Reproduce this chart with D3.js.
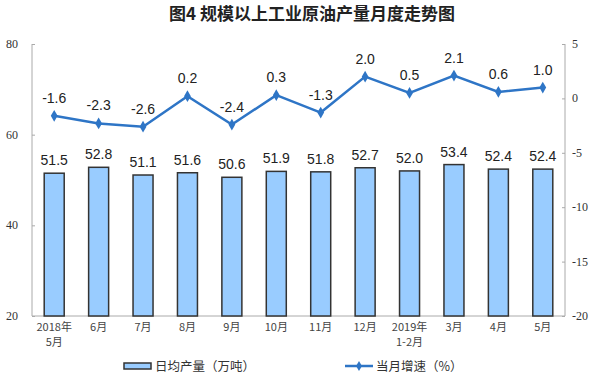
<!DOCTYPE html>
<html>
<head>
<meta charset="utf-8">
<script src="https://cdn.jsdelivr.net/npm/d3@7"></script>
<style>
  body { margin: 0; background: #fff; }
  svg { display: block; }
</style>
</head>
<body>
<svg id="canvas" width="600" height="376"></svg>
<script>
// months on the x axis (two-line labels split by \n)
var months = ["2018年\n5月", "6月", "7月", "8月", "9月", "10月", "11月", "12月", "2019年\n1-2月", "3月", "4月", "5月"];
// daily output (10k tons)
var output = [51.5, 52.8, 51.1, 51.6, 50.6, 51.9, 51.8, 52.7, 52.0, 53.4, 52.4, 52.4];
// year-on-year growth (%)
var growth = [-1.6, -2.3, -2.6, 0.2, -2.4, 0.3, -1.3, 2.0, 0.5, 2.1, 0.6, 1.0];
var leftTicks = [20, 40, 60, 80];
var rightTicks = [-20, -15, -10, -5, 0, 5];

var plotLeft = 32, plotRight = 565, plotTop = 44, plotBottom = 316;
var svg = d3.select("#canvas");

var x = d3.scaleBand().domain(months).range([plotLeft, plotRight]);
var yL = d3.scaleLinear().domain([20, 80]).range([plotBottom, plotTop]);
var yR = d3.scaleLinear().domain([-20, 5]).range([plotBottom, plotTop]);
var cx = function(i) { return x(months[i]) + x.bandwidth() / 2; };

// title
svg.append("text")
    .attr("x", 312).attr("y", 20)
    .attr("text-anchor", "middle")
    .style("font-family", "Noto Sans CJK SC")
    .style("font-size", "17px")
    .style("font-weight", "bold")
    .attr("fill", "#222")
    .text("图4  规模以上工业原油产量月度走势图");

// left axis
var gL = svg.append("g").attr("transform", "translate(" + plotLeft + ",0)")
    .call(d3.axisRight(yL).tickValues(leftTicks).tickSize(3).tickFormat(""));
gL.selectAll("line, path").attr("stroke", "#aaa");
gL.select("path").attr("d", "M0," + plotTop + "V" + plotBottom);
svg.selectAll(".lt").data(leftTicks).enter().append("text")
    .attr("x", 18).attr("y", function(d) { return yL(d) + 4; })
    .attr("text-anchor", "end")
    .style("font-family", "Liberation Serif")
    .style("font-size", "12px").attr("fill", "#333")
    .text(function(d) { return d; });

// right axis
var gR = svg.append("g").attr("transform", "translate(" + plotRight + ",0)")
    .call(d3.axisLeft(yR).tickValues(rightTicks).tickSize(3).tickFormat(""));
gR.selectAll("line, path").attr("stroke", "#aaa");
gR.select("path").attr("d", "M0," + plotTop + "V" + plotBottom);
svg.selectAll(".rt").data(rightTicks).enter().append("text")
    .attr("x", 572).attr("y", function(d) { return yR(d) + 4; })
    .style("font-family", "Liberation Serif")
    .style("font-size", "12px").attr("fill", "#333")
    .text(function(d) { return d; });

// bottom axis line
svg.append("line")
    .attr("x1", plotLeft).attr("x2", plotRight)
    .attr("y1", plotBottom).attr("y2", plotBottom)
    .attr("stroke", "#aaa");

// x labels
svg.selectAll(".xl").data(months).enter().append("text")
    .attr("y", 331)
    .attr("text-anchor", "middle")
    .style("font-family", "Noto Sans CJK SC")
    .style("font-size", "11px").attr("fill", "#444")
    .each(function(d, i) {
        var t = d3.select(this);
        d.split("\n").forEach(function(p, k) {
            t.append("tspan")
                .attr("x", cx(i))
                .attr("dy", k === 0 ? 0 : 15)
                .text(p);
        });
    });

// bars
var barW = 20;
svg.selectAll(".bar").data(output).enter().append("rect")
    .attr("x", function(d, i) { return cx(i) - barW / 2; })
    .attr("y", function(d) { return yL(d); })
    .attr("width", barW)
    .attr("height", function(d) { return plotBottom - yL(d); })
    .attr("fill", "#99ccff")
    .attr("stroke", "#333")
    .attr("stroke-width", 1.5);

svg.selectAll(".bl").data(output).enter().append("text")
    .attr("x", function(d, i) { return cx(i); })
    .attr("y", function(d) { return yL(d) - 8; })
    .attr("text-anchor", "middle")
    .style("font-family", "Liberation Sans")
    .style("font-size", "14px").attr("fill", "#222")
    .text(function(d) { return d.toFixed(1); });

// growth line
var line = d3.line()
    .x(function(d, i) { return cx(i); })
    .y(function(d) { return yR(d); });

svg.append("path").datum(growth)
    .attr("d", line)
    .attr("fill", "none")
    .attr("stroke", "#2e75c6")
    .attr("stroke-width", 2.5);

svg.selectAll(".pt").data(growth).enter().append("path")
    .attr("d", d3.symbol().type(d3.symbolDiamond).size(40))
    .attr("transform", function(d, i) {
        return "translate(" + cx(i) + "," + yR(d) + ")";
    })
    .attr("fill", "#2e75c6");

svg.selectAll(".gl").data(growth).enter().append("text")
    .attr("x", function(d, i) { return cx(i); })
    .attr("y", function(d) { return yR(d) - 13; })
    .attr("text-anchor", "middle")
    .style("font-family", "Liberation Sans")
    .style("font-size", "14px").attr("fill", "#222")
    .text(function(d) { return d.toFixed(1); });

// legend
svg.append("rect")
    .attr("x", 124).attr("y", 363).attr("width", 27).attr("height", 6)
    .attr("fill", "#99ccff").attr("stroke", "#333").attr("stroke-width", 1.5);
svg.append("text")
    .attr("x", 155).attr("y", 371)
    .style("font-family", "Noto Sans CJK SC")
    .style("font-size", "12.5px").attr("fill", "#333")
    .text("日均产量（万吨）");

svg.append("line")
    .attr("x1", 345).attr("x2", 373).attr("y1", 366).attr("y2", 366)
    .attr("stroke", "#2e75c6").attr("stroke-width", 2.5);
svg.append("path")
    .attr("d", d3.symbol().type(d3.symbolDiamond).size(30))
    .attr("transform", "translate(359,366)")
    .attr("fill", "#2e75c6");
svg.append("text")
    .attr("x", 376).attr("y", 371)
    .style("font-family", "Noto Sans CJK SC")
    .style("font-size", "12.5px").attr("fill", "#333")
    .text("当月增速（%）");
</script>
</body>
</html>
